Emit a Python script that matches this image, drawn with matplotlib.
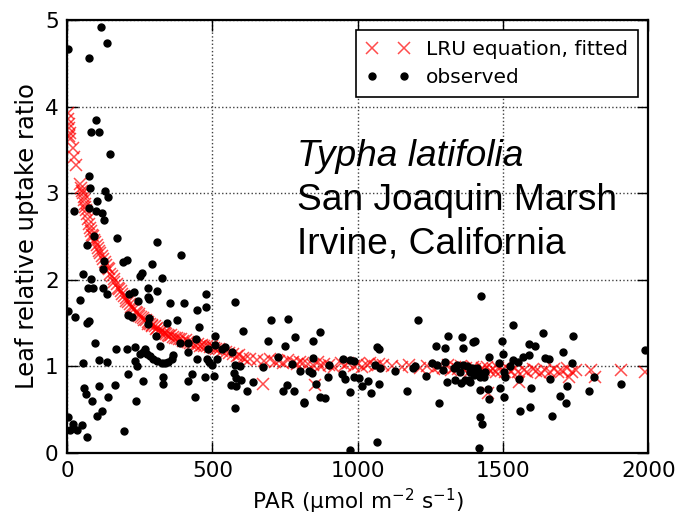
import numpy as np
import matplotlib
matplotlib.use("Agg")
import matplotlib.pyplot as plt

# observed points (PAR, leaf relative uptake ratio)
obs_par = [4, 116, 137, 76, 100, 82, 109, 148, 77, 79,
           130, 142, 104, 24, 77, 100, 120, 127, 171, 93,
           309, 70, 391, 127, 192, 205, 292, 125, 54, 257,
           251, 82, 326, 73, 90, 123, 277, 137, 309, 214,
           231, 277, 283, 478, 45, 245, 355, 403, 578, 478,
           446, 4, 28, 211, 223, 283, 380, 701, 760, 77,
           70, 343, 280, 454, 605, 785, 306, 509, 690, 96,
           389, 320, 750, 169, 205, 234, 268, 418, 532, 544,
           486, 567, 251, 263, 274, 286, 297, 309, 326, 337,
           349, 360, 366, 234, 240, 111, 139, 54, 446, 481,
           490, 498, 578, 596, 676, 802, 211, 429, 475, 506,
           329, 575, 581, 599, 263, 418, 329, 165, 564, 582,
           59, 65, 110, 641, 618, 742, 781, 140, 85, 441,
           236, 817, 122, 102, 578, 4, 22, 51, 10, 33,
           196, 70, 725, 773, 756, 444, 415, 509, 515, 1425,
           1206, 869, 848, 1310, 1359, 1270, 1299, 1364, 1397, 1404,
           1068, 1073, 1453, 846, 949, 974, 986, 903, 1198, 1127,
           1236, 842, 946, 898, 986, 1006, 1035, 1074, 1014, 857,
           1045, 972, 1169, 871, 888, 816, 1281, 1422, 1453, 1422,
           1427, 1068, 974, 1416, 1255, 1272, 1295, 1301, 1330, 1341,
           1353, 1387, 1410, 1422, 1439, 1307, 1336, 1355, 1387, 957,
           1060, 1077, 1192, 834, 1534, 1636, 1739, 1990, 1496, 1500,
           1591, 1611, 1569, 1588, 1536, 1550, 1705, 1645, 1657, 1737,
           1485, 1525, 1502, 1508, 1554, 1660, 1814, 1907, 1720, 1596,
           1491, 1450, 1505, 1797, 1697, 1718, 1559, 1594, 1668, 1364,
           1376, 1393, 1410, 1422, 1433, 1399, 1382, 1370]
obs_ratio = [4.67, 4.92, 4.73, 4.56, 3.85, 3.71, 3.71, 3.45, 3.20, 3.06,
             3.03, 2.95, 2.91, 2.79, 2.83, 2.79, 2.77, 2.69, 2.48, 2.51,
             2.43, 2.40, 2.29, 2.22, 2.20, 2.23, 2.18, 2.12, 2.07, 2.08,
             2.04, 2.01, 2.02, 1.91, 1.91, 1.91, 1.91, 1.84, 1.87, 1.84,
             1.86, 1.80, 1.78, 1.83, 1.77, 1.75, 1.73, 1.73, 1.74, 1.68,
             1.65, 1.64, 1.57, 1.59, 1.57, 1.56, 1.54, 1.54, 1.55, 1.52,
             1.50, 1.50, 1.49, 1.45, 1.41, 1.34, 1.35, 1.35, 1.29, 1.27,
             1.27, 1.23, 1.24, 1.20, 1.20, 1.22, 1.20, 1.27, 1.20, 1.22,
             1.20, 1.17, 1.14, 1.16, 1.14, 1.12, 1.09, 1.06, 1.04, 1.04,
             1.05, 1.09, 1.13, 1.06, 1.00, 1.07, 1.05, 1.04, 1.09, 1.09,
             1.05, 1.02, 1.02, 1.00, 0.99, 0.95, 0.91, 0.91, 0.88, 0.89,
             0.88, 0.92, 0.86, 0.84, 0.83, 0.83, 0.79, 0.78, 0.78, 0.77,
             0.75, 0.68, 0.77, 0.82, 0.71, 0.71, 0.71, 0.64, 0.60, 0.64,
             0.60, 0.58, 0.48, 0.43, 0.52, 0.42, 0.33, 0.32, 0.27, 0.26,
             0.25, 0.18, 1.11, 1.03, 0.78, 1.32, 1.16, 1.25, 1.09, 1.81,
             1.54, 1.40, 1.29, 1.35, 1.34, 1.23, 1.21, 1.21, 1.28, 1.29,
             1.22, 1.20, 1.11, 1.10, 1.09, 1.07, 1.06, 1.02, 1.00, 0.95,
             0.89, 0.92, 0.91, 0.88, 0.88, 0.87, 0.83, 0.80, 0.77, 0.79,
             0.69, 0.70, 0.71, 0.64, 0.63, 0.59, 0.58, 0.73, 0.62, 0.42,
             0.33, 0.12, 0.03, 0.06, 1.04, 1.02, 0.96, 1.05, 0.98, 1.02,
             0.94, 0.94, 0.98, 0.88, 0.94, 0.82, 0.84, 0.81, 0.82, 0.85,
             1.02, 0.98, 0.98, 0.95, 1.48, 1.38, 1.35, 1.19, 1.29, 1.14,
             1.26, 1.23, 1.11, 1.13, 1.07, 1.05, 1.17, 1.10, 1.09, 1.04,
             1.04, 1.00, 0.94, 0.88, 0.85, 0.85, 0.88, 0.80, 0.77, 0.75,
             0.75, 0.74, 0.64, 0.72, 0.66, 0.58, 0.48, 0.53, 0.43, 1.02,
             1.00, 0.98, 0.96, 0.92, 0.88, 0.90, 0.84, 0.84]

# LRU equation, fitted values
lru_par = [4, 5, 6, 8, 9, 7, 11, 20, 24, 30,
           45, 48, 52, 55, 58, 60, 63, 62, 65, 68,
           72, 76, 80, 84, 86, 90, 94, 98, 102, 106,
           111, 114, 121, 124, 131, 133, 141, 146, 149, 156,
           161, 163, 171, 176, 178, 186, 189, 197, 202, 204,
           211, 217, 219, 226, 232, 236, 241, 247, 249, 256,
           262, 264, 271, 277, 279, 286, 292, 294, 302, 306,
           309, 317, 321, 326, 333, 336, 342, 348, 352, 357,
           363, 371, 378, 384, 393, 399, 408, 417, 424, 433,
           441, 449, 456, 464, 472, 483, 491, 498, 507, 514,
           522, 533, 547, 558, 571, 584, 593, 604, 613, 628,
           652, 677, 698, 716, 731, 743, 762, 776, 791, 803,
           812, 829, 846, 862, 871, 884, 903, 918, 941, 956,
           968, 987, 1002, 1016, 1031, 1044, 1061, 1074, 1086, 1118,
           1152, 1178, 1213, 1238, 1262, 1281, 1293, 1311, 1322, 1334,
           1346, 1356, 1366, 1374, 1386, 1396, 1404, 1416, 1426, 1436,
           1446, 1456, 1466, 1476, 1484, 1496, 1506, 1516, 1527, 1541,
           1553, 1571, 1584, 1602, 1614, 1631, 1644, 1662, 1676, 1688,
           1704, 1719, 1736, 1751, 1801, 1815, 1907, 1987, 676, 852,
           1450, 1554, 1726]
lru_ratio = [3.92, 3.86, 3.80, 3.75, 3.70, 3.66, 3.62, 3.52, 3.42, 3.33,
             3.10, 3.06, 3.03, 3.00, 2.96, 2.92, 2.88, 2.84, 2.80, 2.76,
             2.70, 2.64, 2.60, 2.56, 2.52, 2.50, 2.46, 2.43, 2.40, 2.37,
             2.33, 2.31, 2.27, 2.24, 2.20, 2.17, 2.14, 2.12, 2.07, 2.04,
             2.01, 1.97, 1.95, 1.91, 1.89, 1.87, 1.83, 1.81, 1.79, 1.76,
             1.74, 1.72, 1.69, 1.68, 1.66, 1.63, 1.62, 1.60, 1.58, 1.57,
             1.56, 1.53, 1.53, 1.51, 1.49, 1.49, 1.48, 1.46, 1.46, 1.43,
             1.44, 1.42, 1.40, 1.41, 1.38, 1.39, 1.37, 1.36, 1.35, 1.36,
             1.34, 1.33, 1.33, 1.31, 1.31, 1.29, 1.30, 1.28, 1.27, 1.27,
             1.25, 1.26, 1.24, 1.25, 1.23, 1.23, 1.22, 1.23, 1.21, 1.20,
             1.20, 1.18, 1.17, 1.15, 1.14, 1.12, 1.13, 1.10, 1.09, 1.08,
             1.07, 1.06, 1.08, 1.05, 1.06, 1.04, 1.07, 1.05, 1.03, 1.05,
             1.04, 1.03, 1.02, 1.05, 1.00, 1.03, 1.02, 0.99, 1.04, 1.02,
             1.04, 1.00, 1.03, 0.99, 1.02, 1.04, 1.00, 1.03, 1.01, 1.00,
             0.99, 1.01, 0.98, 1.00, 0.97, 1.00, 0.98, 1.01, 0.96, 0.99,
             0.97, 1.00, 0.96, 0.98, 0.95, 0.99, 0.97, 0.94, 0.98, 0.96,
             0.99, 0.95, 0.97, 0.94, 0.98, 0.96, 0.93, 0.97, 0.95, 0.98,
             0.94, 0.96, 0.93, 0.97, 0.95, 0.92, 0.96, 0.94, 0.97, 0.93,
             0.95, 0.98, 0.93, 0.96, 0.96, 0.88, 0.96, 0.93, 0.80, 0.78,
             0.69, 0.82, 0.88]

plt.rcParams['font.family'] = 'DejaVu Sans'

fig = plt.figure(figsize=(6.8, 5.26), dpi=100)
ax = fig.add_axes([0.0985, 0.139, 0.855, 0.823])

ax.plot(lru_par, lru_ratio, linestyle='none', marker='x', color='red',
        markersize=8, markeredgewidth=1.1, alpha=0.7, label='LRU equation, fitted')
ax.plot(obs_par, obs_ratio, linestyle='none', marker='o', color='black',
        markersize=5, label='observed')

ax.set_xlim(0, 2000)
ax.set_ylim(0, 5)
ax.set_xticks([0, 500, 1000, 1500, 2000])
ax.set_yticks([0, 1, 2, 3, 4, 5])
ax.grid(True, linestyle=':', color='0.25', linewidth=1)
ax.tick_params(direction='in', length=8, width=1, top=True, right=True,
               labelsize=15.5, pad=6)
for sp in ax.spines.values():
    sp.set_linewidth(1.6)

ax.set_xlabel(r'PAR ($\mathregular{\mu}$mol m$^{-2}$ s$^{-1}$)', fontsize=15.5)
ax.set_ylabel('Leaf relative uptake ratio', fontsize=17.5)

leg = ax.legend(loc='upper right', numpoints=2, fontsize=14.5, fancybox=False,
                framealpha=1, edgecolor='black', borderaxespad=0.5,
                handlelength=2.2, borderpad=0.5, labelspacing=0.45)
leg.get_frame().set_linewidth(1.2)

ax.text(0.395, 0.685, 'Typha latifolia', transform=ax.transAxes, fontsize=26.7,
        family='Liberation Sans', style='italic', va='center')
ax.text(0.395, 0.582, 'San Joaquin Marsh', transform=ax.transAxes, fontsize=26.7,
        family='Liberation Sans', va='center')
ax.text(0.395, 0.482, 'Irvine, California', transform=ax.transAxes, fontsize=26.7,
        family='Liberation Sans', va='center')

fig.savefig('out.png', dpi=100, facecolor='white')
